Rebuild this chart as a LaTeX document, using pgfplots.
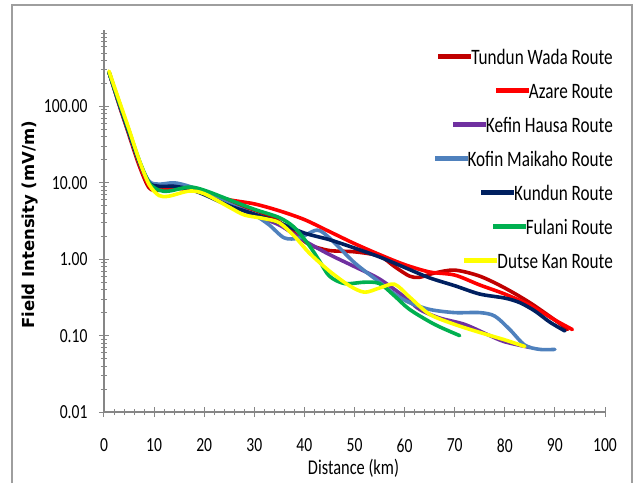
\documentclass[border=0pt]{standalone}
\usepackage{pgfplots}
\pgfplotsset{compat=1.18}
\usepackage{fontspec}
\setmainfont{Carlito}[FakeStretch=0.78]
\newfontfamily\ylabfont{DejaVu Sans}

\definecolor{tundun}{HTML}{C00000}
\definecolor{azare}{HTML}{FF0000}
\definecolor{kefin}{HTML}{7030A0}
\definecolor{kofin}{HTML}{4F81BD}
\definecolor{kundun}{HTML}{002060}
\definecolor{fulani}{HTML}{00B050}
\definecolor{dutse}{HTML}{FFFF00}
\definecolor{axisgray}{HTML}{868686}

\newcommand{\legline}[1]{\textcolor{#1}{\rule[5pt]{33pt}{5.5pt}}}

\begin{document}
\begin{tikzpicture}
\useasboundingbox (0pt,0pt) rectangle (638pt,-483pt);
\draw[axisgray!80, line width=2pt] (12pt,-483pt) -- (12pt,-5pt) -- (632pt,-5pt) -- (632pt,-483pt);
\begin{axis}[
    at={(104pt,-412pt)}, anchor=south west,
    scale only axis,
    width=501pt, height=382pt,
    ymode=log,
    xmin=0, xmax=100,
    ymin=0.01, ymax=1000,
    axis x line=bottom, axis y line=left,
    axis line style={-, axisgray, line width=1.3pt},
    tick style={axisgray, line width=1pt},
    tick align=center,
    major tick length=10pt,
    minor tick length=6pt,
    xtick={0,10,...,100},
    minor x tick num=4,
    ytick={0.01,0.1,1,10,100},
    yticklabels={0.01,0.10,1.00,10.00,100.00},
    minor ytick={0.02,0.03,0.04,0.05,0.06,0.07,0.08,0.09,
                 0.2,0.3,0.4,0.5,0.6,0.7,0.8,0.9,
                 2,3,4,5,6,7,8,9,
                 20,30,40,50,60,70,80,90,
                 200,300,400,500,600,700,800,900},
    /pgf/number format/assume math mode=true,
    xticklabel style={font=\fontsize{20}{24}\selectfont, yshift=-18pt},
    yticklabel style={font=\fontsize{20}{24}\selectfont, xshift=-8pt},
    every axis x label/.style={at={(axis description cs:0.498,-0.148)}, anchor=center},
    every axis y label/.style={at={(axis description cs:-0.148,0.49)}, anchor=center, rotate=90},
    xlabel={\fontsize{21}{24}\selectfont Distance (km)},
    ylabel={\ylabfont\bfseries\fontsize{16.5}{20}\selectfont Field Intensity (mV/m)},
    legend plot pos=none,
    legend cell align=right,
    legend style={at={(rel axis cs:1.022,0.958)}, anchor=north east,
        draw=none, fill=none, row sep=13pt,
        font=\fontsize{22}{26}\selectfont,
        nodes={inner sep=0pt, text height=16pt, text depth=5pt}},
    every axis plot/.append style={line width=3.6pt, smooth, line cap=round, line join=round},
]
\addplot[tundun] coordinates {
 (1,280) (3,105) (5,42) (7,17) (9,8.6) (11,8.0) (14,8.4) (17,8.2) (20,7.2)
 (25,5.5) (30,4.4) (34,3.4) (38,2.2) (41,1.55) (45,1.3) (50,1.25) (55,1.1)
 (58,0.8) (61,0.6) (63,0.58) (66,0.66) (70,0.72) (75,0.6) (80,0.42)
 (85,0.27) (90,0.16) (92.5,0.12)
};
\addlegendentry{\legline{tundun}Tundun Wada Route}
\addplot[azare] coordinates {
 (1,280) (3,110) (5,45) (7,18) (9,9.2) (11,8.4) (14,8.6) (17,8.2) (20,7.3)
 (25,6.0) (30,5.3) (35,4.3) (40,3.3) (45,2.3) (50,1.6) (55,1.15) (60,0.85)
 (65,0.68) (70,0.62) (75,0.46) (80,0.35) (85,0.25) (90,0.16) (93.5,0.12)
};
\addlegendentry{\legline{azare}Azare Route}
\addplot[kefin] coordinates {
 (1,280) (3,110) (5,45) (7,19) (9,10) (11,9.3) (14,9.6) (17,8.5) (20,7.2)
 (25,5.2) (30,3.8) (35,2.8) (38,2.1) (41,1.6) (45,1.15) (50,0.8) (55,0.55)
 (60,0.32) (63,0.22) (67,0.17) (72,0.14) (77,0.1) (80,0.083) (85,0.07)
};
\addlegendentry{\legline{kefin}Kefin Hausa Route}
\addplot[kofin] coordinates {
 (1,280) (3,110) (5,45) (7,19) (9,10.5) (11,9.6) (14,10) (17,9) (20,7.5)
 (25,5.3) (30,3.8) (33,2.8) (36,1.9) (39,1.9) (42.5,2.4) (45,1.9) (50,0.9)
 (55,0.5) (58,0.35) (61,0.27) (65,0.22) (70,0.2) (75,0.2) (78,0.18)
 (81,0.12) (84,0.075) (87,0.066) (90,0.066)
};
\addlegendentry{\legline{kofin}Kofin Maikaho Route}
\addplot[kundun] coordinates {
 (1,280) (3,110) (5,45) (7,19) (9,10) (11,9.0) (14,9.0) (17,8.3) (20,7)
 (25,5.0) (30,3.9) (35,3.0) (40,2.2) (45,1.8) (50,1.4) (55,1.07) (60,0.78)
 (65,0.57) (70,0.45) (75,0.35) (80,0.31) (83,0.27) (86,0.21) (89,0.15)
 (92,0.115)
};
\addlegendentry{\legline{kundun}Kundun Route}
\addplot[fulani] coordinates {
 (1,280) (3,115) (5,48) (7,20) (9,10) (11,8.0) (13,7.8) (17,8.8) (20,8.0)
 (25,6.0) (30,4.5) (35,3.5) (38,2.6) (41,1.5) (43,0.95) (45,0.6) (48,0.48)
 (52,0.5) (55,0.48) (58,0.33) (61,0.22) (66,0.14) (71,0.1)
};
\addlegendentry{\legline{fulani}Fulani Route}
\addplot[dutse] coordinates {
 (1,290) (3,120) (5,50) (7,20) (9,9.5) (11,6.8) (13,6.7) (17,7.8) (20,7.2)
 (25,4.8) (28,3.8) (32,3.4) (35,3.0) (38,2.0) (41,1.2) (45,0.7) (49,0.45)
 (52,0.37) (55,0.42) (58,0.47) (61,0.32) (65,0.19) (70,0.14) (75,0.11)
 (80,0.088) (84,0.072)
};
\addlegendentry{\legline{dutse}Dutse Kan Route}
\end{axis}
\end{tikzpicture}
\end{document}
